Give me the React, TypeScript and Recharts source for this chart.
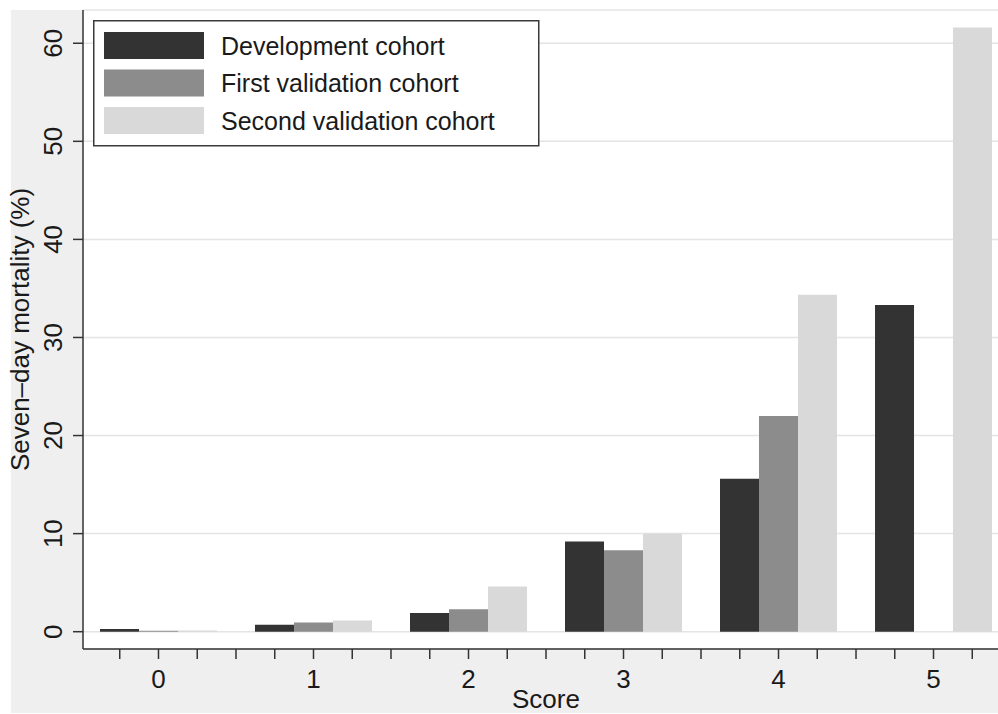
import React from 'react';
import { BarChart, Bar, XAxis, YAxis, CartesianGrid, Legend, Label } from 'recharts';

const scores = [0, 1, 2, 3, 4, 5];
const development = [0.28, 0.7, 1.9, 9.2, 15.6, 33.3];
const firstValidation: (number | null)[] = [0.1, 0.95, 2.3, 8.3, 22.0, null];
const secondValidation = [0.12, 1.15, 4.6, 10.0, 34.35, 61.6];
const yTicks = [0, 10, 20, 30, 40, 50, 60];
const seriesNames = ['Development cohort', 'First validation cohort', 'Second validation cohort'];
const seriesKeys = ['dev', 'first', 'second'];
const seriesColors = ['#333333', '#8c8c8c', '#d9d9d9'];

const data = scores.map((s, i) => ({
  score: s,
  dev: development[i],
  first: firstValidation[i],
  second: secondValidation[i],
}));

// minor ticks every quarter score unit
const xTicks: number[] = [];
for (let k = -1; k <= 21; k++) xTicks.push(k * 0.25);

const X_MIN = -0.487;
const X_MAX = 5.416;
const Y_MIN = -1.764;
const Y_MAX = 63.39;

const FONT = '"Liberation Sans", Arial, Helvetica, sans-serif';
const TEXT = '#1a1a1a';

const XTick = (props: any) => {
  const { x, y, payload } = props;
  const v = payload.value;
  if (!Number.isInteger(v)) return <g />;
  return (
    <text x={x} y={y} dy={27} textAnchor="middle" fontSize={26} fill={TEXT} fontFamily={FONT}>
      {v}
    </text>
  );
};

const YTick = (props: any) => {
  const { x, y, payload } = props;
  const tx = x - 9;
  return (
    <text
      x={tx}
      y={y}
      transform={`rotate(-90, ${tx}, ${y})`}
      textAnchor="middle"
      fontSize={26}
      fill={TEXT}
      fontFamily={FONT}
    >
      {payload.value}
    </text>
  );
};

const XTitle = (props: any) => {
  const vb = props.viewBox || {};
  const cx = vb.x + ((2.5 - X_MIN) / (X_MAX - X_MIN)) * vb.width;
  return (
    <text x={cx} y={vb.y + 59} textAnchor="middle" fontSize={26} fill={TEXT} fontFamily={FONT}>
      Score
    </text>
  );
};

const YTitle = (props: any) => {
  const vb = props.viewBox || {};
  const tx = vb.x + 19;
  const ty = vb.y + vb.height / 2;
  return (
    <text
      x={tx}
      y={ty}
      transform={`rotate(-90, ${tx}, ${ty})`}
      textAnchor="middle"
      fontSize={26}
      fill={TEXT}
      fontFamily={FONT}
    >
      Seven–day mortality (%)
    </text>
  );
};

const LegendBox = () => (
  <svg width={448} height={128} style={{ display: 'block' }}>
    <rect x={0.75} y={0.75} width={445} height={125} fill="#ffffff" stroke="#3a3a3a" strokeWidth={1.5} />
    {seriesNames.map((name, i) => (
      <g key={name}>
        <rect x={11} y={12 + i * 37.5} width={100} height={27} fill={seriesColors[i]} />
        <text x={128} y={25.5 + i * 37.5 + 9} fontSize={25} fill={TEXT} fontFamily={FONT}>
          {name}
        </text>
      </g>
    ))}
  </svg>
);

export default function App() {
  return (
    <div
      style={{
        position: 'absolute',
        left: 0,
        top: 0,
        width: 998,
        height: 714,
        background: '#ffffff',
        overflow: 'hidden',
        fontFamily: FONT,
      }}
    >
      <div style={{ position: 'absolute', left: 11, top: 10, width: 987, height: 703, background: '#efefef' }} />
      <div style={{ position: 'absolute', left: 0, top: 0 }}>
        <BarChart
          width={998}
          height={714}
          data={data}
          margin={{ top: 10, right: 0, bottom: 10, left: 10 }}
          barGap={0}
        >
          <CartesianGrid vertical={false} stroke="#e4e4e4" strokeWidth={1.5} fill="#ffffff" />
          <XAxis
            type="number"
            dataKey="score"
            domain={[X_MIN, X_MAX]}
            allowDataOverflow
            ticks={xTicks}
            interval={0}
            height={55}
            tickSize={10}
            tick={<XTick />}
            axisLine={{ stroke: '#333333', strokeWidth: 1.5 }}
            tickLine={{ stroke: '#333333', strokeWidth: 1.5 }}
          >
            <Label content={<XTitle />} />
          </XAxis>
          <YAxis
            type="number"
            domain={[Y_MIN, Y_MAX]}
            allowDataOverflow
            ticks={yTicks}
            interval={0}
            width={73}
            tickSize={10}
            tick={<YTick />}
            axisLine={{ stroke: '#333333', strokeWidth: 1.5 }}
            tickLine={{ stroke: '#333333', strokeWidth: 1.5 }}
          >
            <Label content={<YTitle />} />
          </YAxis>
          <Legend
            layout="vertical"
            align="center"
            verticalAlign="middle"
            wrapperStyle={{ left: 93, top: 20, width: 448, height: 128 }}
            content={<LegendBox />}
          />
          {seriesKeys.map((k, i) => (
            <Bar
              key={k}
              dataKey={k}
              name={seriesNames[i]}
              fill={seriesColors[i]}
              barSize={39}
              isAnimationActive={false}
            />
          ))}
        </BarChart>
      </div>
    </div>
  );
}
